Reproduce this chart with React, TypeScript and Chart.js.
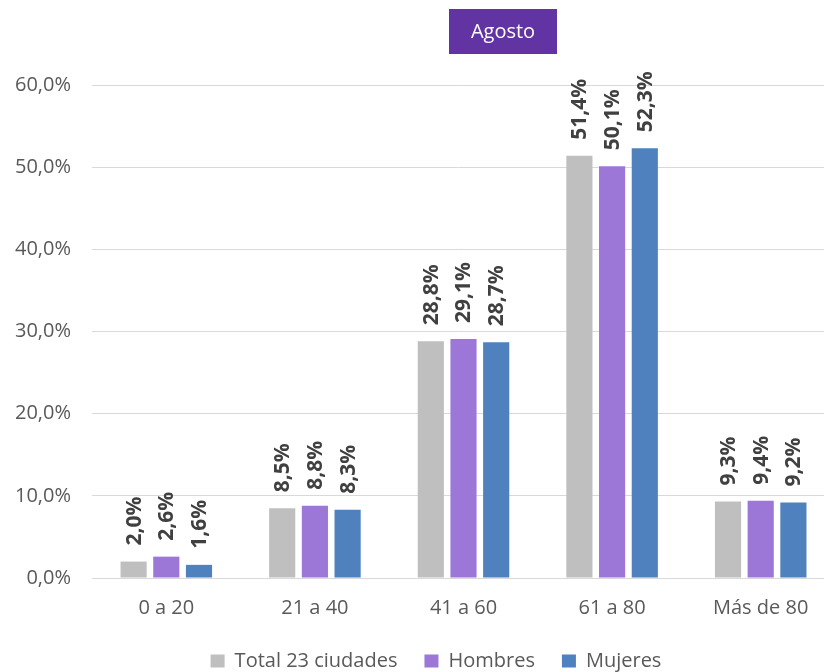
import React, { useEffect, useRef } from "react";
import { Chart, registerables } from "chart.js";

Chart.register(...registerables);

const categories = ["0 a 20", "21 a 40", "41 a 60", "61 a 80", "Más de 80"];
const seriesNames = ["Total 23 ciudades", "Hombres", "Mujeres"];
const totalValues = [2.0, 8.5, 28.8, 51.4, 9.3];
const hombresValues = [2.6, 8.8, 29.1, 50.1, 9.4];
const mujeresValues = [1.6, 8.3, 28.7, 52.3, 9.2];
const seriesColors = ["#BFBFBF", "#9C77D7", "#4E81BE"];
const yTicks = [0, 10, 20, 30, 40, 50, 60];
const titleText = "Agosto";
const FONT = "'Open Sans', 'Noto Sans', sans-serif";

const fmt = (v: number) => v.toFixed(1).replace(".", ",") + "%";

const barLabelPlugin = {
  id: "barLabels",
  afterDatasetsDraw(chart: any) {
    const ctx = chart.ctx;
    ctx.save();
    ctx.font = `bold 21px ${FONT}`;
    ctx.fillStyle = "#404040";
    ctx.textAlign = "left";
    ctx.textBaseline = "middle";
    chart.data.datasets.forEach((ds: any, i: number) => {
      const meta = chart.getDatasetMeta(i);
      meta.data.forEach((bar: any, j: number) => {
        ctx.save();
        ctx.translate(bar.x + 1, bar.y - 16);
        ctx.rotate(-Math.PI / 2);
        ctx.fillText(fmt(ds.data[j]), 0, 0);
        ctx.restore();
      });
    });
    ctx.restore();
  },
};

const titleBoxPlugin = {
  id: "titleBox",
  afterDraw(chart: any) {
    const ctx = chart.ctx;
    const cx = chart.width * (503 / 824);
    const w = 108;
    const h = 45;
    const top = 9;
    ctx.save();
    ctx.fillStyle = "#6233A3";
    ctx.fillRect(cx - w / 2, top, w, h);
    ctx.fillStyle = "#FFFFFF";
    ctx.font = `20px ${FONT}`;
    ctx.textAlign = "center";
    ctx.textBaseline = "middle";
    ctx.fillText(titleText, cx, top + h / 2 + 1);
    ctx.restore();
  },
};

// Layout tweaks: compact legend height, plot area running slightly past the right edge.
const layoutTweakPlugin = {
  id: "layoutTweak",
  beforeLayout(chart: any) {
    const lg = chart.legend;
    if (lg && !lg._fitPatched) {
      const orig = lg.fit.bind(lg);
      lg.fit = function () {
        orig();
        this.height = 34;
      };
      lg._fitPatched = true;
    }
  },
  afterLayout(chart: any) {
    const extra = 11;
    const x = chart.scales.x;
    if (x) {
      x.right += extra;
      x.width += extra;
      x.configure();
      chart.chartArea.right += extra;
      chart.chartArea.width = chart.chartArea.right - chart.chartArea.left;
    }
    const lg = chart.legend;
    if (!lg) return;
    const dx = chart.width * (436 / 824) - (lg.left + lg.right) / 2;
    lg.left += dx;
    lg.right += dx;
    lg.top = chart.height * (624 / 672);
    lg.bottom = chart.height;
    lg.height = lg.bottom - lg.top;
  },
};

export default function App() {
  const ref = useRef<HTMLCanvasElement | null>(null);
  useEffect(() => {
    if (!ref.current) return;
    const values = [totalValues, hombresValues, mujeresValues];
    const chart = new Chart(ref.current, {
      type: "bar",
      data: {
        labels: categories,
        datasets: seriesNames.map((name, i) => ({
          label: name,
          data: values[i],
          backgroundColor: seriesColors[i],
          borderWidth: 0,
          categoryPercentage: 0.66,
          barPercentage: 0.8,
        })),
      },
      options: {
        animation: false,
        responsive: true,
        maintainAspectRatio: false,
        layout: { padding: { top: 85, right: 0, left: 0, bottom: 0 } },
        plugins: {
          title: { display: false },
          tooltip: { enabled: false },
          legend: {
            position: "bottom",
            labels: {
              boxWidth: 14,
              boxHeight: 13,
              color: "#595959",
              font: { family: FONT, size: 20 },
              padding: 27,
            },
          },
        },
        scales: {
          x: {
            grid: { display: false, drawTicks: false },
            border: { color: "#D9D9D9", width: 1 },
            ticks: {
              color: "#595959",
              font: { family: FONT, size: 20 },
              padding: 18,
            },
          },
          y: {
            min: 0,
            max: 60,
            afterFit: (scale: any) => {
              scale.width = 92;
            },
            afterBuildTicks: (scale: any) => {
              scale.ticks = yTicks.map((v) => ({ value: v }));
            },
            ticks: {
              color: "#595959",
              font: { family: FONT, size: 20 },
              padding: 21,
              callback: (v: any) => fmt(Number(v)),
            },
            grid: { color: "#D9D9D9", drawTicks: false },
            border: { display: false },
          },
        },
      },
      plugins: [barLabelPlugin, titleBoxPlugin, layoutTweakPlugin],
    });
    return () => chart.destroy();
  }, []);
  return (
    <div style={{ position: "fixed", left: 0, top: 0, width: 824, height: 672, background: "#FFFFFF" }}>
      <canvas ref={ref} />
    </div>
  );
}
